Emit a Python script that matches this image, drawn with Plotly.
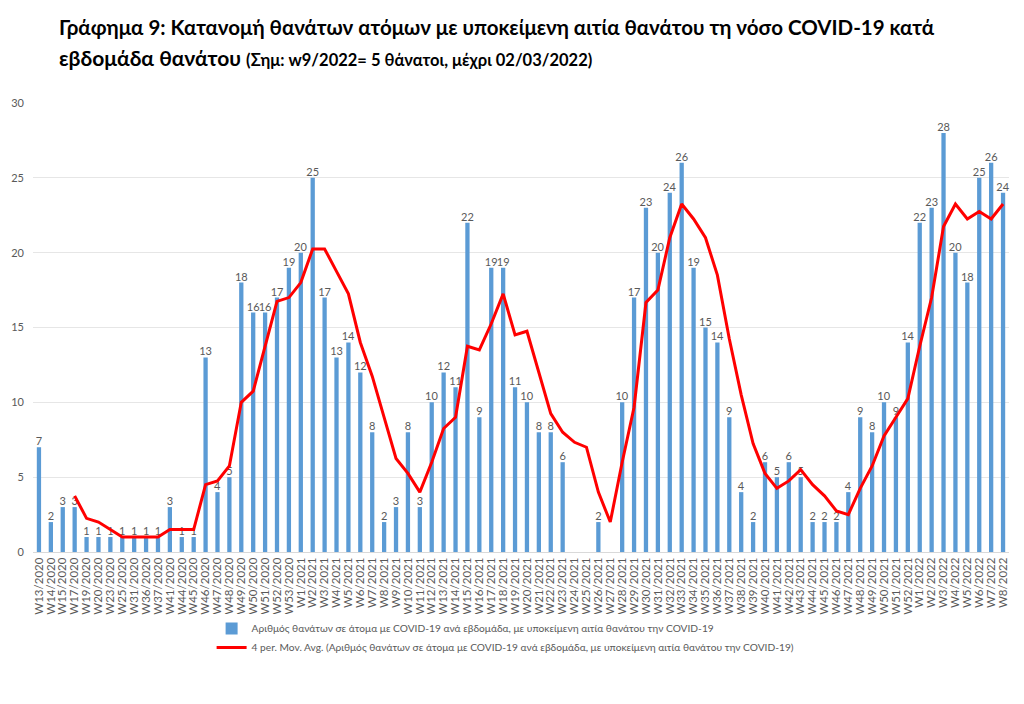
import plotly.graph_objects as go

weeks = [
    "W13/2020", "W14/2020", "W15/2020", "W17/2020", "W19/2020", "W20/2020", "W23/2020", "W25/2020",
    "W31/2020", "W36/2020", "W37/2020", "W41/2020", "W44/2020", "W45/2020", "W46/2020", "W47/2020",
    "W48/2020", "W49/2020", "W50/2020", "W51/2020", "W52/2020", "W53/2020",
    "W1/2021", "W2/2021", "W3/2021", "W4/2021", "W5/2021", "W6/2021", "W7/2021", "W8/2021",
    "W9/2021", "W10/2021", "W11/2021", "W12/2021", "W13/2021", "W14/2021", "W15/2021", "W16/2021",
    "W17/2021", "W18/2021", "W19/2021", "W20/2021", "W21/2021", "W22/2021", "W23/2021", "W24/2021",
    "W25/2021", "W26/2021", "W27/2021", "W28/2021", "W29/2021", "W30/2021", "W31/2021", "W32/2021",
    "W33/2021", "W34/2021", "W35/2021", "W36/2021", "W37/2021", "W38/2021", "W39/2021", "W40/2021",
    "W41/2021", "W42/2021", "W43/2021", "W44/2021", "W45/2021", "W46/2021", "W47/2021", "W48/2021",
    "W49/2021", "W50/2021", "W51/2021", "W52/2021",
    "W1/2022", "W2/2022", "W3/2022", "W4/2022", "W5/2022", "W6/2022", "W7/2022", "W8/2022",
]

deaths = [
    7, 2, 3, 3, 1, 1, 1, 1,
    1, 1, 1, 3, 1, 1, 13, 4,
    5, 18, 16, 16, 17, 19,
    20, 25, 17, 13, 14, 12, 8, 2,
    3, 8, 3, 10, 12, 11, 22, 9,
    19, 19, 11, 10, 8, 8, 6, None,
    None, 2, None, 10, 17, 23, 20, 24,
    26, 19, 15, 14, 9, 4, 2, 6,
    5, 6, 5, 2, 2, 2, 4, 9,
    8, 10, 9, 14,
    22, 23, 28, 20, 18, 25, 26, 24,
]

# 4-period moving average as drawn in the reference (blank weeks skipped)
moving_avg = [
    None, None, None, 3.75, 2.25, 2.0, 1.5, 1.0,
    1.0, 1.0, 1.0, 1.5, 1.5, 1.5, 4.5, 4.75,
    5.75, 10.0, 10.75, 13.75, 16.75, 17.0,
    18.0, 20.25, 20.25, 18.75, 17.25, 14.0, 11.75, 9.0,
    6.25, 5.25, 4.0, 6.0, 8.25, 9.0, 13.75, 13.5,
    15.25, 17.25, 14.5, 14.75, 12.0, 9.25, 8.0, 7.33,
    7.0, 4.0, 2.0, 6.0, 9.67, 16.67, 17.5, 21.0,
    23.25, 22.25, 21.0, 18.5, 14.25, 10.5, 7.25, 5.25,
    4.25, 4.75, 5.5, 4.5, 3.75, 2.75, 2.5, 4.25,
    5.75, 7.75, 9.0, 10.25,
    13.75, 17.0, 21.75, 23.25, 22.25, 22.75, 22.25, 23.25,
]

bar_name = "Αριθμός θανάτων σε άτομα με COVID-19 ανά εβδομάδα, με υποκείμενη αιτία θανάτου την COVID-19"
line_name = "4 per. Mov. Avg. (Αριθμός θανάτων σε άτομα με COVID-19 ανά εβδομάδα, με υποκείμενη αιτία θανάτου την COVID-19)"

title_line1 = "Γράφημα 9: Κατανομή θανάτων ατόμων με υποκείμενη αιτία θανάτου τη νόσο COVID-19 κατά"
title_line2a = "εβδομάδα θανάτου "
title_line2b = "(Σημ: w9/2022= 5 θάνατοι, μέχρι 02/03/2022)"

FONT = "Lato"
GREY = "#595959"

fig = go.Figure()
fig.add_trace(go.Bar(
    x=weeks, y=deaths, name=bar_name,
    marker=dict(color="#5B9BD5", line=dict(width=0)),
    text=["" if v is None else str(v) for v in deaths],
    textposition="outside",
    constraintext="none",
    textfont=dict(family=FONT, size=11, color=GREY),
    cliponaxis=False,
))
fig.add_trace(go.Scatter(
    x=weeks, y=moving_avg, name=line_name, mode="lines",
    line=dict(color="#FF0000", width=3),
    connectgaps=False,
))

# page body adds an 8px offset; margins compensate so the plot sits at x 33-1009, y 103-552
fig.update_layout(
    width=1024, height=704,
    margin=dict(l=25, r=23, t=95, b=160, autoexpand=False),
    paper_bgcolor="white", plot_bgcolor="white",
    bargap=0.64,
    font=dict(family=FONT, color=GREY),
    showlegend=True,
    legend=dict(
        orientation="v", x=0.183, xanchor="left", y=-0.138, yanchor="top",
        font=dict(family=FONT, size=10.2, color=GREY),
        tracegroupgap=0, itemwidth=30,
    ),
    annotations=[
        dict(text="<b>" + title_line1 + "</b>", xref="paper", yref="paper",
             x=0.0246, y=1.169, xanchor="left", yanchor="middle", showarrow=False,
             font=dict(family=FONT, size=20.5, color="black")),
        dict(text="<b>" + title_line2a + "<span style='font-size:16.5px'>" + title_line2b + "</span></b>",
             xref="paper", yref="paper",
             x=0.0246, y=1.102, xanchor="left", yanchor="middle", showarrow=False,
             font=dict(family=FONT, size=21, color="black")),
    ],
)

fig.update_xaxes(
    type="category", tickangle=-90, dtick=1, automargin=False,
    tickfont=dict(family=FONT, size=11.5, color=GREY),
    showline=True, linecolor="#D9D9D9", linewidth=1,
    showgrid=False, ticks="",
)
fig.update_yaxes(
    range=[0, 30], dtick=5, automargin=False,
    tickfont=dict(family=FONT, size=11, color=GREY),
    showgrid=True, gridcolor="#E6E6E6", gridwidth=1,
    zeroline=False, showline=False, ticks="", ticklabelstandoff=8,
)

fig.write_html("out.html")
